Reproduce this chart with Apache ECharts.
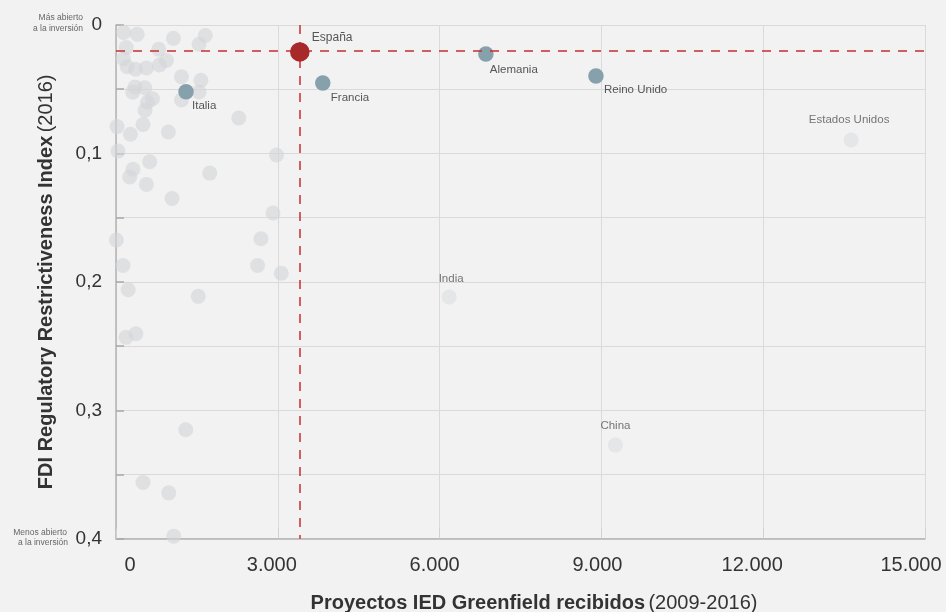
<!DOCTYPE html>
<html>
<head>
<meta charset="utf-8">
<script src="https://cdn.jsdelivr.net/npm/echarts@6/dist/echarts.min.js"></script>
<style>
  html, body { margin: 0; padding: 0; background: #f2f2f2; }
  #chart { width: 946px; height: 612px; }
</style>
</head>
<body>
<div id="chart"></div>
<script>
// ---- Data ----
const xTicks = [0, 3000, 6000, 9000, 12000, 15000];
const xTickLabels = ['0', '3.000', '6.000', '9.000', '12.000', '15.000'];
const yTicks = [0, 0.1, 0.2, 0.3, 0.4];
const yTickLabels = ['0', '0,1', '0,2', '0,3', '0,4'];

// Unlabelled countries (grey)
const grayX = [143, 393, 1065, 1655, 189, 1540, 792, 137, 935, 208, 362, 564, 805, 1213, 1575,
  352, 532, 310, 1540, 1213, 677, 584, 538, 2276, 19, 501, 267, 972, 37, 2977, 625, 315, 254,
  1738, 564, 1039, 2911, 7, 2688, 130, 2625, 3065, 226, 1525, 186, 369, 1293, 501, 978, 1070];
const grayY = [0.0058, 0.0072, 0.0104, 0.0082, 0.0175, 0.0150, 0.0189, 0.0263, 0.0276, 0.0325,
  0.0344, 0.0335, 0.0312, 0.0403, 0.0430, 0.0483, 0.0489, 0.0523, 0.0522, 0.0584, 0.0574, 0.0601,
  0.0664, 0.0724, 0.0791, 0.0775, 0.0851, 0.0833, 0.0981, 0.1012, 0.1065, 0.1123, 0.1184, 0.1153,
  0.1241, 0.1351, 0.1464, 0.1674, 0.1664, 0.1873, 0.1873, 0.1933, 0.2062, 0.2113, 0.2432, 0.2404,
  0.3152, 0.3562, 0.3643, 0.3980];

// Labelled grey countries
const labelledGrayNames = ['Estados Unidos', 'India', 'China'];
const labelledGrayX = [13630, 6177, 9260];
const labelledGrayY = [0.0896, 0.2118, 0.3271];

// Highlighted European peers (blue)
const peerNames = ['Italia', 'Francia', 'Alemania', 'Reino Unido'];
const peerX = [1298, 3834, 6858, 8899];
const peerY = [0.0519, 0.0452, 0.0226, 0.0397];

// Spain (red)
const spainName = 'España';
const spainX = 3408;
const spainY = 0.0210;

// ---- Styles (kept separate from data) ----
const labelStyle = {
  'Estados Unidos': { offset: [-2, -20], align: 'center' },
  'India': { offset: [2, -18], align: 'center' },
  'China': { offset: [0, -19], align: 'center' },
  'Italia': { offset: [6, 14], align: 'left' },
  'Francia': { offset: [8, 15], align: 'left' },
  'Alemania': { offset: [4, 16], align: 'left' },
  'Reino Unido': { offset: [8, 14], align: 'left' },
  'España': { offset: [12, -14], align: 'left' }
};
const xLabelShift = [14, -6, -5, -4, -11, -14];

const FONT = '"Liberation Sans", Arial, Helvetica, sans-serif';

function labelFor(name, size) {
  const s = labelStyle[name];
  return {
    show: true,
    formatter: name,
    position: 'inside',
    offset: s.offset,
    align: s.align,
    verticalAlign: 'middle',
    color: '#555',
    fontSize: size || 11.5,
    fontFamily: FONT
  };
}

const xRich = {};
xTickLabels.forEach((t, i) => {
  const sh = xLabelShift[i];
  xRich['x' + i] = {
    fontSize: 20, fontFamily: FONT, color: '#333',
    padding: sh >= 0 ? [0, 0, 0, 2 * sh] : [0, -2 * sh, 0, 0]
  };
});

const chart = echarts.init(document.getElementById('chart'), null, { renderer: 'canvas' });

const option = {
  backgroundColor: '#f2f2f2',
  animation: false,
  textStyle: { fontFamily: FONT },
  grid: { left: 116, top: 25, width: 809, height: 513.7, containLabel: false, outerBoundsMode: 'none' },
  xAxis: {
    type: 'value',
    min: 0, max: 15000, interval: 3000,
    name: '{b|Proyectos IED Greenfield recibidos} {n|(2009-2016)}',
    nameLocation: 'middle',
    nameGap: 55,
    nameTextStyle: {
      padding: [0, 0, 0, 27],
      rich: {
        b: { fontSize: 20, fontWeight: 'bold', color: '#333', fontFamily: FONT },
        n: { fontSize: 20, fontWeight: 'normal', color: '#333', fontFamily: FONT }
      }
    },
    axisLine: { show: true, onZero: false, lineStyle: { color: '#b3b3b3', width: 1.5 } },
    axisTick: { show: true, inside: true, length: 10, lineStyle: { color: '#d0d0d0' } },
    splitLine: { show: true, lineStyle: { color: '#dadada', width: 1 } },
    axisLabel: {
      margin: 17,
      formatter: function (v) {
        const i = xTicks.indexOf(v);
        return i >= 0 ? '{x' + i + '|' + xTickLabels[i] + '}' : '';
      },
      rich: xRich
    }
  },
  yAxis: {
    type: 'value',
    inverse: true,
    min: 0, max: 0.4, interval: 0.05,
    name: '{b|FDI Regulatory Restrictiveness Index} {n|(2016)}',
    nameLocation: 'middle',
    nameGap: 60,
    nameTextStyle: {
      rich: {
        b: { fontSize: 20, fontWeight: 'bold', color: '#333', fontFamily: FONT },
        n: { fontSize: 20, fontWeight: 'normal', color: '#333', fontFamily: FONT }
      }
    },
    axisLine: { show: true, onZero: false, lineStyle: { color: '#b3b3b3', width: 1.5 } },
    axisTick: { show: true, inside: true, length: 8, lineStyle: { color: '#a8a8a8', width: 1.5 } },
    splitLine: { show: true, lineStyle: { color: '#dadada', width: 1 } },
    axisLabel: {
      margin: 14,
      fontSize: 19,
      color: '#333',
      fontFamily: FONT,
      formatter: function (v) {
        for (let i = 0; i < yTicks.length; i++) {
          if (Math.abs(v - yTicks[i]) < 1e-6) return yTickLabels[i];
        }
        return '';
      }
    }
  },
  series: [
    {
      type: 'scatter',
      name: 'otros',
      z: 2,
      symbolSize: 15,
      itemStyle: { color: '#d3d5d9', opacity: 0.62 },
      data: grayX.map((x, i) => [x, grayY[i]])
    },
    {
      type: 'scatter',
      name: 'otros destacados',
      z: 2,
      symbolSize: 15,
      itemStyle: { color: '#e1e2e5' },
      data: labelledGrayNames.map((n, i) => ({
        name: n, value: [labelledGrayX[i], labelledGrayY[i]], label: labelFor(n)
      }))
    },
    {
      type: 'scatter',
      name: 'referencia España',
      z: 3,
      data: [],
      markLine: {
        silent: true,
        symbol: 'none',
        label: { show: false },
        lineStyle: { color: '#c4302f', width: 1.5, type: [9, 8] },
        data: [{ xAxis: spainX }, { yAxis: spainY }]
      }
    },
    {
      type: 'scatter',
      name: 'pares',
      z: 4,
      symbolSize: 15.5,
      itemStyle: { color: '#86a0ac', opacity: 1 },
      data: peerNames.map((n, i) => ({
        name: n, value: [peerX[i], peerY[i]], label: labelFor(n)
      }))
    },
    {
      type: 'scatter',
      name: 'España',
      z: 5,
      symbolSize: 19.5,
      itemStyle: { color: '#a8292a', opacity: 1 },
      data: [{ name: spainName, value: [spainX, spainY], label: labelFor(spainName, 12) }]
    }
  ],
  graphic: [
    { type: 'text', x: 83, y: 17.7, style: { text: 'Más abierto', align: 'right', verticalAlign: 'middle', fill: '#666', font: '8.5px ' + FONT } },
    { type: 'text', x: 83, y: 29, style: { text: 'a la inversión', align: 'right', verticalAlign: 'middle', fill: '#666', font: '8.5px ' + FONT } },
    { type: 'text', x: 67, y: 532.3, style: { text: 'Menos abierto', align: 'right', verticalAlign: 'middle', fill: '#666', font: '8.5px ' + FONT } },
    { type: 'text', x: 68, y: 542.3, style: { text: 'a la inversión', align: 'right', verticalAlign: 'middle', fill: '#666', font: '8.5px ' + FONT } }
  ]
};

chart.setOption(option);
</script>
</body>
</html>
